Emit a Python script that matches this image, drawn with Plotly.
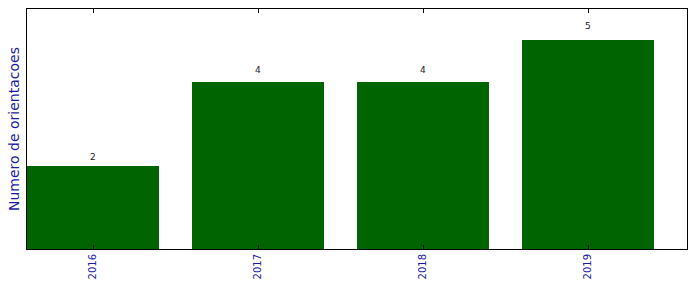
import plotly.graph_objects as go

years = ["2016", "2017", "2018", "2019"]
counts = [2, 4, 4, 5]

fig = go.Figure()
fig.add_trace(go.Bar(
    x=list(range(len(years))), y=counts, width=0.8,
    marker=dict(color="#006400", line=dict(width=0)),
))
for i, c in enumerate(counts):
    fig.add_annotation(x=i, y=c * 1.05, text=str(c), showarrow=False,
                       yanchor="bottom", yshift=-3,
                       font=dict(family="DejaVu Sans", size=9, color="#222222"))
fig.update_layout(
    width=696, height=292, margin=dict(l=27, r=9, t=9, b=43),
    plot_bgcolor="white", paper_bgcolor="white", showlegend=False,
    font=dict(family="DejaVu Sans"),
    bargap=0,
)
fig.update_xaxes(
    range=[-0.4, 3.6], tickvals=list(range(len(years))), ticktext=years,
    tickangle=-90, ticks="inside", ticklen=4, tickcolor="black",
    showline=True, linecolor="black", linewidth=1, mirror="ticks",
    showgrid=False, zeroline=False,
    tickfont=dict(family="DejaVu Sans", size=10, color="#1a1aa6"),
)
fig.update_yaxes(
    range=[0, 5.75], showticklabels=False, ticks="",
    showline=True, linecolor="black", linewidth=1, mirror=True,
    showgrid=False, zeroline=False,
    title=dict(text="Numero de orientacoes", standoff=3,
               font=dict(family="DejaVu Sans", size=14, color="#1a1aa6")),
)
fig.write_html("out.html")
